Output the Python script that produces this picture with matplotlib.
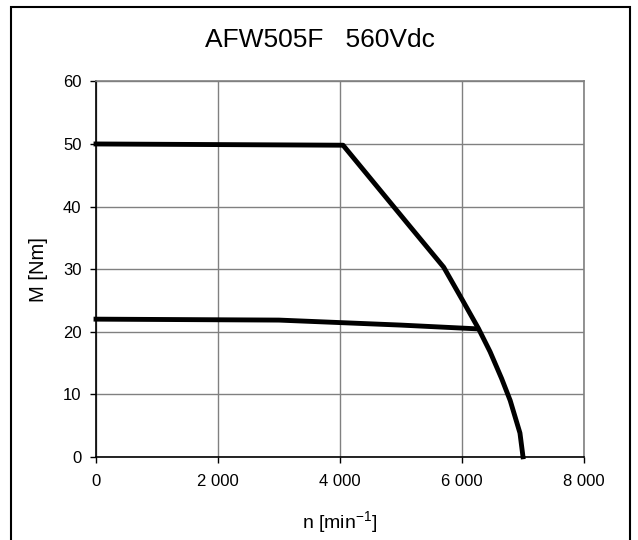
import matplotlib
matplotlib.use("Agg")
import matplotlib.pyplot as plt
from matplotlib.patches import Rectangle
from matplotlib.ticker import FuncFormatter

plt.rcParams['font.family'] = ['Liberation Sans', 'DejaVu Sans']
plt.rcParams['mathtext.fontset'] = 'custom'
plt.rcParams['mathtext.rm'] = 'Liberation Sans'
plt.rcParams['mathtext.default'] = 'regular'

# Data
title = "AFW505F   560Vdc"
n_peak = [0, 4050, 5140, 5700, 6010, 6270, 6460, 6650, 6790, 6950, 7000]
M_peak = [50, 49.8, 36.9, 30.3, 25.0, 20.5, 16.8, 12.5, 9.0, 3.8, 0]
n_cont = [0, 3000, 4000, 5000, 6250]
M_cont = [22.0, 21.85, 21.45, 21.05, 20.45]
x_ticks = [0, 2000, 4000, 6000, 8000]
y_ticks = [0, 10, 20, 30, 40, 50, 60]

fig = plt.figure(figsize=(6.38, 5.40), dpi=100)
ax = fig.add_axes([96/638, 1-456.8/540, 488/638, 375.4/540])

ax.plot(n_peak, M_peak, color='black', lw=3.5, solid_joinstyle='round', zorder=3, clip_on=False)
ax.plot(n_cont, M_cont, color='black', lw=3.5, solid_joinstyle='round', zorder=3, clip_on=False)

ax.set_xlim(0, 8000)
ax.set_ylim(0, 60)
ax.set_xticks(x_ticks)
ax.set_yticks(y_ticks)
ax.xaxis.set_major_formatter(FuncFormatter(lambda v, p: f"{int(v):,}".replace(",", " ")))
ax.grid(True, color='#808080', lw=1.0)
ax.set_axisbelow(True)
for s in ['top', 'right']:
    ax.spines[s].set_color('#808080')
    ax.spines[s].set_linewidth(1.2)
for s in ['left', 'bottom']:
    ax.spines[s].set_color('black')
    ax.spines[s].set_linewidth(1.2)
ax.tick_params(axis='both', direction='out', length=4.5, width=1, color='black', labelsize=12)
ax.tick_params(axis='x', pad=8)
ax.tick_params(axis='y', pad=6)

ax.set_xlabel("n [min$^{-1}$]", fontsize=14)
ax.xaxis.label.set_va('center')
ax.xaxis.set_label_coords(0.5, -0.174)
ax.set_ylabel("M [Nm]", fontsize=14.5)
ax.yaxis.label.set_va('center')
ax.yaxis.set_label_coords(-0.118, 0.5)

fig.text(320/638, 1-40/540, title, ha='center', va='center', fontsize=19)

fig.patches.append(Rectangle((11/638, -0.02), (630-11)/638, 1-7.3/540+0.02,
                             transform=fig.transFigure, fill=False, edgecolor='black', lw=1.5))

fig.savefig("out.png", dpi=100)
